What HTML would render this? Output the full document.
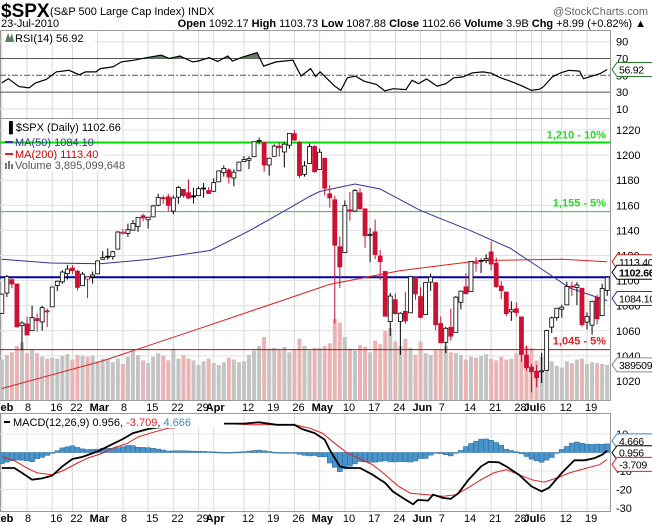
<!DOCTYPE html>
<html><head><meta charset="utf-8">
<style>
html,body{margin:0;padding:0;background:#fff;}
svg{display:block;font-family:"Liberation Sans",sans-serif;}
</style></head>
<body>
<svg id="chart" width="652" height="525" viewBox="0 0 652 525" xmlns="http://www.w3.org/2000/svg">
<rect x="0" y="0" width="652" height="525" fill="#fff"/>
<g>
<text x="1" y="17" font-size="19" font-weight="bold" fill="#000">$SPX</text>
<text x="50" y="15" font-size="11" fill="#000">(S&amp;P 500 Large Cap Index) INDX</text>
<text x="648" y="15" font-size="11" fill="#666" text-anchor="end">@StockCharts.com</text>
<text x="1" y="27" font-size="11" fill="#000">23-Jul-2010</text>
<text x="646" y="27" font-size="11" fill="#000" text-anchor="end"><tspan font-weight="bold">Open</tspan> 1092.17 <tspan font-weight="bold">High</tspan> 1103.73 <tspan font-weight="bold">Low</tspan> 1087.88 <tspan font-weight="bold">Close</tspan> 1102.66 <tspan font-weight="bold">Volume</tspan> 3.9B <tspan font-weight="bold">Chg</tspan> +8.99 (+0.82%) ▲</text>
</g>
<g id="rsi"></g>
<g id="main"></g>
<g id="macd"></g>
</svg>
<script>
// ---- data ----
const xLabelDays = [0,5,10,14,19,24,29,34,39,42,48,53,58,63,68,73,78,83,87,92,97,102,105,107,111,116];
const xLabelText = ['Feb','8','16','22','Mar','8','15','22','29','Apr','12','19','26','May','10','17','24','Jun','7','14','21','28','Jul','6','12','19'];
const openP = [1073.9,1090.1,1100.7,1097.3,1064.1,1065.5,1060.1,1069.7,1067.1,1075.9,1079.1,1096.1,1099.0,1105.5,1110.0,1107.5,1095.9,1101.2,1103.1,
1105.4,1117.0,1119.4,1119.1,1125.1,1138.4,1137.6,1140.2,1143.0,1151.7,1148.5,1150.8,1160.0,1166.1,1166.7,1155.4,1166.5,1172.7,1170.0,1167.6,1167.7,1173.8,1171.8,
1171.2,1178.7,1186.0,1188.2,1181.8,1187.5,1194.9,1195.9,1198.7,1210.8,1210.2,1192.1,1199.0,1207.2,1202.5,1207.9,1217.1,1209.9,1184.6,1193.3,1206.8,
1188.6,1197.5,1169.2,1164.4,1127.0,1122.3,1156.4,1155.4,1170.0,1157.2,1136.5,1138.8,1119.6,1107.3,1067.3,1084.8,1067.4,1075.5,1074.3,1102.6,
1087.3,1073.0,1098.8,1098.4,1065.8,1050.8,1062.8,1058.8,1082.7,1095.0,1091.2,1114.0,1115.9,1116.2,1122.8,1113.9,1095.6,1090.9,1075.1,1077.5,1071.1,1040.6,
1031.1,1027.7,1028.1,1028.5,1062.9,1070.5,1077.2,1080.7,1095.6,1094.5,1093.9,1066.9,1064.5,1086.7,1072.1,1092.2];
const highP = [1089.4,1104.7,1102.7,1097.3,1067.6,1071.2,1080.0,1073.7,1080.0,1077.8,1095.0,1100.0,1108.2,1112.4,1112.3,1108.6,1107.0,1103.5,1107.2,
1116.1,1123.5,1125.6,1123.7,1139.4,1141.1,1145.4,1148.3,1150.2,1153.4,1150.5,1160.3,1169.2,1167.8,1169.2,1167.8,1175.4,1173.0,1180.7,1173.9,1174.9,1177.8,1174.6,
1181.4,1187.7,1191.8,1189.6,1188.6,1194.7,1199.2,1199.0,1210.7,1213.9,1210.2,1197.9,1208.6,1210.0,1210.3,1217.3,1219.8,1211.4,1195.1,1209.4,1207.9,
1205.1,1197.5,1175.9,1167.6,1135.1,1163.9,1170.5,1172.9,1173.6,1157.2,1141.9,1148.7,1124.3,1107.3,1090.2,1089.9,1074.8,1090.8,1103.5,1102.6,
1094.8,1098.6,1105.7,1098.4,1071.4,1063.2,1077.7,1087.8,1092.0,1105.9,1115.6,1118.7,1117.7,1121.0,1131.2,1118.5,1099.6,1090.9,1083.6,1082.6,1071.1,1048.1,
1033.6,1032.9,1042.5,1060.9,1071.3,1078.2,1080.8,1099.1,1099.1,1098.7,1093.9,1074.7,1083.9,1088.9,1097.5,1103.7];
const lowP = [1073.9,1087.0,1093.9,1062.8,1044.5,1056.5,1060.1,1059.3,1060.1,1062.9,1079.1,1091.8,1097.5,1100.8,1105.4,1092.2,1095.9,1086.0,1097.6,
1105.4,1116.5,1116.6,1116.7,1125.1,1136.8,1134.9,1140.1,1138.9,1147.3,1141.5,1150.4,1159.3,1161.2,1155.3,1152.9,1161.2,1166.0,1165.1,1161.5,1167.7,1166.1,1169.3,
1170.7,1178.7,1182.8,1177.3,1175.1,1187.2,1194.7,1188.8,1198.7,1208.5,1186.8,1183.7,1199.0,1198.9,1190.2,1205.1,1211.1,1181.6,1182.8,1193.3,1186.3,
1188.6,1168.1,1158.2,1065.8,1094.2,1122.3,1147.7,1155.4,1156.1,1126.1,1114.6,1117.2,1100.7,1071.6,1055.9,1073.0,1040.8,1065.6,1074.3,1084.8,
1069.9,1072.7,1091.8,1060.5,1050.3,1042.2,1052.3,1058.8,1077.0,1089.0,1091.2,1107.1,1105.9,1113.9,1108.2,1094.2,1085.3,1071.6,1067.9,1071.5,1035.2,1028.3,
1010.9,1015.0,1018.4,1028.5,1058.2,1068.1,1070.5,1080.7,1087.7,1080.5,1063.3,1061.1,1056.9,1065.3,1072.1,1087.9];
const closeP = [1089.2,1103.3,1097.3,1063.1,1066.2,1056.7,1070.5,1068.1,1078.5,1075.5,1094.9,1099.5,1106.8,1109.2,1108.0,1094.6,1105.2,1102.9,1104.5,
1115.7,1118.3,1118.8,1123.0,1138.7,1138.5,1140.5,1145.6,1150.2,1150.0,1150.5,1159.5,1166.2,1165.8,1159.9,1165.8,1174.2,1167.7,1165.7,1166.6,1173.2,1173.3,1169.4,
1178.1,1187.4,1189.4,1182.5,1186.4,1194.4,1196.5,1197.3,1210.7,1211.7,1192.1,1197.5,1207.2,1205.9,1208.7,1217.3,1212.1,1183.7,1191.4,1206.8,1186.7,
1202.3,1173.6,1165.9,1128.2,1110.9,1159.7,1155.8,1171.7,1157.4,1135.7,1136.9,1120.8,1115.1,1071.6,1087.7,1073.7,1074.0,1068.0,1103.1,1089.4,
1070.7,1098.4,1102.8,1064.9,1050.5,1062.0,1055.7,1086.8,1091.6,1089.6,1115.2,1114.6,1116.0,1117.5,1113.2,1095.3,1092.0,1073.7,1076.8,1074.6,1041.2,1030.7,
1027.4,1022.6,1028.1,1060.3,1070.3,1078.0,1078.8,1095.3,1095.2,1096.5,1064.9,1071.3,1083.5,1069.6,1093.7,1102.66];
const volumeB = [4.5,5.0,5.3,6.0,6.4,5.2,5.6,5.2,4.8,4.6,4.7,4.6,4.9,5.1,4.5,5.0,4.9,4.8,4.9,
4.3,4.6,4.5,4.2,4.6,4.0,4.8,5.5,5.0,4.4,4.1,4.8,5.2,4.9,4.4,5.7,4.6,5.0,4.6,4.4,3.9,4.3,4.6,
4.1,3.9,4.2,4.7,4.5,4.2,4.3,5.0,5.5,6.0,7.0,5.7,5.8,5.6,5.9,5.3,5.6,6.8,6.0,5.5,5.8,
5.8,6.0,6.3,9.0,8.6,7.0,5.7,5.5,6.1,5.9,5.3,6.6,6.2,7.7,8.0,6.5,6.0,6.8,5.8,5.0,
6.5,5.2,5.0,5.6,5.6,6.0,5.3,5.2,5.0,4.5,4.8,4.7,4.9,5.1,4.6,4.4,4.8,4.5,4.6,5.2,6.4,6.0,
5.8,4.4,4.8,4.5,4.3,3.8,3.6,4.3,4.1,4.5,4.6,4.0,4.2,4.1,4.0,3.9];
const ma50Day = [0,9.6,19.5,29.4,41.3,49.2,57.1,61,63,70,75,82.9,92.8,100.7,106.7,112.6,120];
const ma50Val = [1117,1114,1113.5,1117,1124,1140,1158,1167,1171,1177,1173,1156,1140,1126,1110,1094,1084.1];
const ma200Day = [0,20,39.3,65,79,95,111,120];
const ma200Val = [1014,1036,1062,1097,1108,1116,1117,1115];
const rsiDay = [0,1.3,3.4,5.4,6.7,8.8,10.8,13.3,15.4,16.6,18.7,19.5,22,23.7,26.2,28.7,31.6,33.2,35.3,37.8,39,41.1,42.8,44.8,45.7,47.7,50.6,51.9,54.4,57.7,59.3,61.2,62.2,63.1,66,67.2,68.5,70.1,71.8,74.3,75.9,77.6,80.1,81.3,82.6,84.2,86.3,88,89.6,91.3,93.3,95.4,97,98.7,100.8,102.9,105,106.6,107.4,109.1,110.8,112.4,114.5,115.3,117,118.6,120];
const rsiVal = [41,46,36.5,35,41,45,54,56,50.6,54,54,58,60,66,68,71,74,70,73,66,67,71,66.6,73,67,71.5,77,61,66,68,49,58,48.6,54,37,32,47,49,43,39,31.5,34,33,44,40,45.6,37,40,47,48,53,54,52.5,47.5,43,38,32,33.5,36.5,48,53,56,55,46,49,52,56.92];
const macdDay = [0,2.5,4,6,8,10,12,14,16,19,21,24,26,29,30.5,35,40,44.5,48,51,54.5,58,59.5,62,64,65,67,68.5,71,73.5,76,77.5,79.5,81.5,82.5,84.5,85.5,87.5,89,90.5,92.5,95,96.5,98.5,100,102.5,105,107,108.5,111,113.5,115.5,117.5,119,120];
const macdVal = [-8.4,-8.4,-11,-14.7,-14,-12.5,-7.5,-3.5,-2.4,0.6,3.3,7.3,10.5,12.7,13.4,14.5,15.2,15.6,15.6,16.3,15,15,12.7,10.5,7,1.5,-7.5,-8.4,-8.4,-12,-16.5,-21,-24.6,-28,-25.6,-26,-22.8,-24.6,-25,-22,-14.7,-7.5,-5.1,-5.3,-7.5,-12,-18.3,-21,-19,-11,-4.2,-4.2,-3,-1.2,0.956];
const signalDay = [0,2.5,5,7,10,12,15,17,20,22,25,27,30,33,35,44.5,49.5,58,61,63.5,66,68.5,71,73.5,76,78.5,81,84.5,87.5,90,92.5,95,97.5,100,102.5,105,107.5,110,112.5,116,118.5,120];
const signalVal = [-2.4,-4.4,-8.4,-11,-12,-10,-5.7,-3,-0.3,2.4,5.1,8.4,10.9,13.2,13.5,15.6,15,15,13.2,10.5,5,-0.3,-3.5,-6.6,-12,-18,-22,-22.8,-23.7,-22.8,-19,-14.7,-11,-9.3,-12,-14.7,-16,-13.8,-11,-8.4,-6.6,-3.709];
const priceTicks = [1020,1040,1060,1080,1100,1120,1140,1160,1180,1200,1220];
const rsiTicks = [10,30,50,70,90];
const macdTicks = [-30,-20,-10,10];

// ---- scales ----
const PR = 610;
function X(i){return 1.8+i*5.045;}
function PY(p){return 130+(1220-p)*1.255;}
function RY(v){return 58.5+(70-v)*0.84;}
function MY(v){return 434+(10-v)*1.85;}
function VY(v){return 400-v*9;}
function interp(days,vals,d){
  if(d<=days[0])return vals[0];
  for(let k=1;k<days.length;k++){if(d<=days[k]){const t=(d-days[k-1])/(days[k]-days[k-1]);return vals[k-1]+t*(vals[k]-vals[k-1]);}}
  return vals[vals.length-1];
}
const NS='http://www.w3.org/2000/svg';
function mk(parent,tag,attrs,txt){const e=document.createElementNS(NS,tag);for(const k in attrs)e.setAttribute(k,attrs[k]);if(txt!==undefined)e.textContent=txt;parent.appendChild(e);return e;}
function pts(days,vals,fy){return days.map((d,k)=>X(d).toFixed(1)+','+fy(vals[k]).toFixed(1)).join(' ');}

function vgrid(g,y0,y1){
  xLabelDays.forEach(d=>{const l=mk(g,'line',{x1:X(d),x2:X(d),y1:y0,y2:y1,stroke:'#d8d8d8','stroke-width':1});
  
  });
}
function xlabels(g,y){
  xLabelDays.forEach((d,k)=>{const bold=isNaN(+xLabelText[k]);
  const t=mk(g,'text',{x:X(d)-(bold?8:2),y:y,'font-size':11,'font-weight':bold?'bold':'normal',fill:'#000'},xLabelText[k]);
  
  });
}
function valBox(g,y,txt,color,bold,name){
  const w=txt.length*5.8+8;
  const p=mk(g,'path',{d:`M${PR+2},${y} L${PR+7},${y-7} L${PR+7+w},${y-7} L${PR+7+w},${y+7} L${PR+7},${y+7} Z`,fill:'#fff',stroke:color,'stroke-width':1});
  
  
  const t=mk(g,'text',{x:PR+9,y:y+4,'font-size':10.5,'letter-spacing':'-0.3','font-weight':bold?'bold':'normal',fill:'#000'},txt);
  
  
}

// ---- RSI ----
(function(){
  const g=document.getElementById('rsi');
  mk(g,'rect',{x:0.5,y:30.5,width:PR,height:88,fill:'#fff',stroke:'#999'});
  vgrid(g,31,118);
  rsiTicks.forEach(v=>{
    const col=(v===70||v===30||v===50)?'#555':'#ddd';
    const l=mk(g,'line',{x1:0,x2:PR,y1:RY(v),y2:RY(v),stroke:col,'stroke-width':1,'stroke-dasharray':v===50?'6,2,2,2':'none'});
    
    
    const t=mk(g,'text',{x:616,y:RY(v)+4,'font-size':11,fill:'#000'},String(v));
    
    
  });
  let d='';let inside=false;
  for(let s=0;s<=1200;s++){const day=s/10;const v=interp(rsiDay,rsiVal,day);
    if(v>70){if(!inside){d+=`M${X(day).toFixed(1)},${RY(70)} `;inside=true;}d+=`L${X(day).toFixed(1)},${RY(v).toFixed(1)} `;}
    else if(inside){d+=`L${X(day).toFixed(1)},${RY(70)} Z `;inside=false;}}
  const sh=mk(g,'path',{d:d,fill:'#5f7f5f'});
  
  
  const ln=mk(g,'polyline',{points:pts(rsiDay,rsiVal,RY),fill:'none',stroke:'#000','stroke-width':1.2});
  
  
  mk(g,'rect',{x:3,y:31,width:92,height:13,fill:'#fff'});
  mk(g,'path',{d:'M5,42 L8,33 L10,38 L12,33 L14,42 Z',fill:'#5f7f5f'});
  const lg=mk(g,'text',{x:15,y:42,'font-size':11,fill:'#000'},'RSI(14) 56.92');
  
  
  valBox(g,RY(56.92),'56.92','#2a7a2a',false,'rsi-value-label');
})();

// ---- Main price panel ----
(function(){
  const g=document.getElementById('main');
  mk(g,'rect',{x:0.5,y:118.5,width:PR,height:282,fill:'#fff',stroke:'#999'});
  vgrid(g,119,400);
  priceTicks.forEach(p=>{
    const l=mk(g,'line',{x1:0,x2:PR,y1:PY(p),y2:PY(p),stroke:'#e0e0e0'});
    
    
    const t=mk(g,'text',{x:616,y:PY(p)+4,'font-size':11,fill:'#000'},String(p));
    
    
  });
  volumeB.forEach((v,i)=>{
    const down=i>0?closeP[i]<closeP[i-1]:closeP[i]<openP[i];
    const r=mk(g,'rect',{x:X(i)-2,y:VY(v),width:4,height:400-VY(v),fill:down?'#eab4b4':'#c4c4c4'});
    
    
  });
  const levels=[[1210,'#00dd00',2,'level-1210'],[1155,'#22cc22',1,'level-1155'],[1102.66,'#0000aa',2,'level-close'],[1045,'#dd0000',1,'level-1045']];
  levels.forEach(L=>{const l=mk(g,'line',{x1:0,x2:PR,y1:PY(L[0]),y2:PY(L[0]),stroke:L[1],'stroke-width':L[2]});
    
    });
  const t1=mk(g,'text',{x:606,y:PY(1210)-4,'font-size':11,'font-weight':'bold',fill:'#22dd22','text-anchor':'end'},'1,210 - 10%');
  
  
  const t2=mk(g,'text',{x:606,y:PY(1155)-5,'font-size':11,'font-weight':'bold',fill:'#22dd22','text-anchor':'end'},'1,155 - 5%');
  
  
  const t3=mk(g,'text',{x:606,y:PY(1045)-5,'font-size':11,'font-weight':'bold',fill:'#dd2222','text-anchor':'end'},'1,045 - 5%');
  
  
  const m200=mk(g,'polyline',{points:pts(ma200Day,ma200Val,PY),fill:'none',stroke:'#e02020','stroke-width':1});
  
  
  const m50=mk(g,'polyline',{points:pts(ma50Day,ma50Val,PY),fill:'none',stroke:'#333399','stroke-width':1});
  
  
  closeP.forEach((c,i)=>{
    const o=openP[i],h=highP[i],lo=lowP[i];
    const red=i>0?c<closeP[i-1]:c<o;
    const col=red?'#cc1133':'#000';
    const x=X(i);
    const w=mk(g,'line',{x1:x,x2:x,y1:PY(h),y2:PY(lo),stroke:col,'stroke-width':1});
    
    
    const top=PY(Math.max(o,c)),bh=Math.max(1,Math.abs(PY(o)-PY(c)));
    const b=mk(g,'rect',{x:x-2,y:top,width:4,height:bh,fill:c<o?col:'#fff',stroke:col,'stroke-width':0.8});
    
    
  });
  mk(g,'rect',{x:3,y:120,width:118,height:13,fill:'#fff'});
  const lg1=mk(g,'text',{x:5,y:131,'font-size':11,fill:'#000'},'\u2590 $SPX (Daily) 1102.66');
  
  
  mk(g,'line',{x1:5,x2:13,y1:142,y2:142,stroke:'#333399','stroke-width':2});
  const lg2=mk(g,'text',{x:15,y:146,'font-size':11,fill:'#333399'},'MA(50) 1084.10');
  
  
  mk(g,'rect',{x:3,y:148,width:100,height:12,fill:'#fff'});
  mk(g,'line',{x1:5,x2:13,y1:154,y2:154,stroke:'#e02020','stroke-width':2});
  const lg3=mk(g,'text',{x:15,y:158,'font-size':11,fill:'#cc0000'},'MA(200) 1113.40');
  
  
  mk(g,'rect',{x:3,y:160,width:122,height:11,fill:'#fff'});
  mk(g,'rect',{x:5,y:163,width:2,height:6,fill:'#777'});mk(g,'rect',{x:8,y:161,width:2,height:8,fill:'#777'});mk(g,'rect',{x:11,y:164,width:2,height:5,fill:'#777'});
  const lg4=mk(g,'text',{x:15,y:169,'font-size':11,fill:'#555'},'Volume 3,895,099,648');
  
  
  valBox(g,PY(1113.4)-2,'1113.40','#cc2222',false,'ma200-value-label');
  valBox(g,PY(1102.66)-5,'1102.66','#000',true,'close-value-label');
  valBox(g,PY(1084.1)-2,'1084.10','#333399',false,'ma50-value-label');
  valBox(g,VY(3.9),'3895099','#888',false,'volume-value-label');
})();
xlabels(document.getElementById('main'),411);

// ---- MACD ----
(function(){
  const g=document.getElementById('macd');
  mk(g,'rect',{x:0.5,y:413.5,width:PR,height:98,fill:'#fff',stroke:'#999'});
  vgrid(g,414,511);
  macdTicks.forEach(v=>{
    const l=mk(g,'line',{x1:0,x2:PR,y1:MY(v),y2:MY(v),stroke:'#e4e4e4'});
    
    
    const t=mk(g,'text',{x:616,y:MY(v)+4,'font-size':11,fill:'#000'},String(v));
    
    
  });
  for(let i=0;i<closeP.length;i++){
    const h=interp(macdDay,macdVal,i)-interp(signalDay,signalVal,i);
    const y0=MY(0),y1=MY(h);
    const r=mk(g,'rect',{x:X(i)-2.5,y:Math.min(y0,y1),width:5,height:Math.max(0.8,Math.abs(y1-y0)),fill:'#4a94cc',stroke:'#2a6a9a','stroke-width':0.5});
    
    
  }
  const sl=mk(g,'polyline',{points:pts(signalDay,signalVal,MY),fill:'none',stroke:'#e02020','stroke-width':1});
  
  
  const ml=mk(g,'polyline',{points:pts(macdDay,macdVal,MY),fill:'none',stroke:'#000','stroke-width':1.8});
  
  
  mk(g,'rect',{x:2,y:415,width:222,height:13,fill:'#fff'});
  mk(g,'line',{x1:4,x2:10,y1:422,y2:422,stroke:'#000','stroke-width':2});
  const lg=mk(g,'text',{x:13,y:426,'font-size':11,fill:'#000'});
  
  
  lg.innerHTML='MACD(12,26,9) 0.956, <tspan fill="#dd2222">-3.709</tspan>, <tspan fill="#3a8ac8">4.666</tspan>';
  valBox(g,MY(4.666)-3,'4.666','#3a8ac8',false,'histogram-value-label');
  valBox(g,MY(0.956)+2,'0.956','#000',false,'macd-value-label');
  valBox(g,MY(-3.709)+5,'-3.709','#dd2222',false,'signal-value-label');
})();
xlabels(document.getElementById('macd'),522);
</script>
</body></html>
